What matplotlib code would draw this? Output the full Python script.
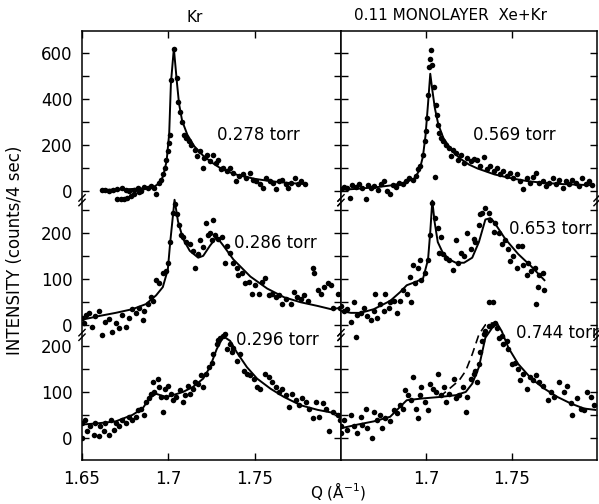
import numpy as np
import matplotlib.pyplot as plt
from matplotlib.transforms import blended_transform_factory

plt.rcParams['font.family'] = ['DejaVu Sans']

# ---- Kr, 0.278 torr (top left) ----
kr278_q = [1.6617, 1.6636, 1.6656, 1.6679, 1.6705, 1.6730, 1.6753, 1.6773, 1.6802, 1.6822,
           1.6841, 1.6861, 1.6880, 1.6900, 1.6919, 1.6705, 1.6724, 1.6744, 1.6763, 1.6783,
           1.6802, 1.6831, 1.6929, 1.6944, 1.6958, 1.6968, 1.6978, 1.6987, 1.6997, 1.7003,
           1.7011, 1.7017, 1.7032, 1.7052, 1.7058, 1.7065, 1.7077, 1.7091, 1.7104, 1.7120,
           1.7134, 1.7153, 1.7167, 1.7182, 1.7198, 1.7206, 1.7225, 1.7241, 1.7260, 1.7276,
           1.7289, 1.7303, 1.7319, 1.7338, 1.7358, 1.7373, 1.7393, 1.7412, 1.7432, 1.7451,
           1.7471, 1.7490, 1.7510, 1.7529, 1.7549, 1.7568, 1.7588, 1.7607, 1.7621, 1.7640,
           1.7660, 1.7679, 1.7693, 1.7712, 1.7732, 1.7751, 1.7771, 1.7790]
kr278_c = [3, 6, 0, 4, 10, 14, 6, 0, 3, 12,
           0, 17, 12, 22, 14, -33, -36, -33, -29, -22,
           -12, -3, -14, 36, 50, 72, 101, 137, 173, 209,
           245, 482, 619, 490, 389, 343, 300, 245, 230, 219,
           202, 180, 151, 173, 101, 144, 158, 130, 158, 122,
           137, 94, 101, 86, 101, 79, 43, 65, 72, 58,
           79, 50, 43, 29, 12, 58, 43, 36, 7, 43,
           50, 29, 14, 36, 58, 32, 43, 29]
kr278_fit_q = [1.6617, 1.675, 1.686, 1.692, 1.695, 1.697, 1.699, 1.7005, 1.7015, 1.7032,
               1.705, 1.7062, 1.708, 1.711, 1.715, 1.720, 1.725, 1.730, 1.735, 1.740,
               1.750, 1.760, 1.770, 1.779]
kr278_fit_c = [5, 7, 12, 20, 35, 65, 130, 250, 470, 620,
               470, 380, 305, 245, 195, 155, 125, 100, 83, 70,
               53, 42, 35, 30]

# ---- Kr, 0.286 torr (middle left) ----
kr286_q = [1.6500, 1.6510, 1.6523, 1.6539, 1.6558, 1.6578, 1.6597, 1.6617, 1.6636, 1.6656,
           1.6675, 1.6695, 1.6714, 1.6734, 1.6753, 1.6773, 1.6792, 1.6812, 1.6831, 1.6851,
           1.6861, 1.6880, 1.6900, 1.6909, 1.6929, 1.6948, 1.6968, 1.6987, 1.6997, 1.7011,
           1.7026, 1.7036, 1.7052, 1.7061, 1.7075, 1.7085, 1.7104, 1.7124, 1.7143, 1.7153,
           1.7173, 1.7182, 1.7202, 1.7221, 1.7231, 1.7241, 1.7250, 1.7260, 1.7270, 1.7289,
           1.7309, 1.7328, 1.7338, 1.7358, 1.7377, 1.7397, 1.7406, 1.7426, 1.7445, 1.7465,
           1.7484, 1.7504, 1.7523, 1.7543, 1.7562, 1.7582, 1.7601, 1.7621, 1.7640, 1.7660,
           1.7679, 1.7709, 1.7728, 1.7748, 1.7767, 1.7787, 1.7806, 1.7835, 1.7841, 1.7865,
           1.7884, 1.7904, 1.7923, 1.7942, 1.7952, 1.7981, 1.7995]
kr286_c = [15, 4, 22, 26, -4, 19, 30, -22, 7, 13,
           -15, 4, -7, 22, -4, 15, 34, 26, 37, 11,
           30, 45, 60, 52, 97, 90, 112, 116, 135, 180,
           244, 262, 240, 217, 195, 191, 180, 176, 161, 124,
           154, 184, 169, 221, 195, 199, 184, 229, 195, 187,
           191, 135, 172, 157, 135, 124, 109, 112, 90, 94,
           67, 86, 67, 94, 101, 64, 67, 60, 64, 45,
           56, 45, 71, 60, 56, 64, 52, 124, 112, 75,
           67, 82, 90, 86, 37, 67, 37]
kr286_fit_q = [1.650, 1.6597, 1.6695, 1.6792, 1.687, 1.6929, 1.6968, 1.6997, 1.7011, 1.7036,
               1.7056, 1.7085, 1.7124, 1.7173, 1.7202, 1.7241, 1.728, 1.7319, 1.7377, 1.7475,
               1.7572, 1.767, 1.7767, 1.7865, 1.7942, 1.800]
kr286_fit_c = [11, 19, 26, 34, 45, 64, 82, 120, 180, 272,
               225, 187, 161, 146, 150, 172, 191, 172, 142, 105,
               79, 60, 49, 41, 34, 37]

# ---- Kr, 0.296 torr (bottom left) ----
kr296_q = [1.6500, 1.6500, 1.6519, 1.6529, 1.6549, 1.6568, 1.6578, 1.6597, 1.6607, 1.6627,
           1.6636, 1.6656, 1.6666, 1.6685, 1.6695, 1.6714, 1.6734, 1.6753, 1.6773, 1.6792,
           1.6812, 1.6822, 1.6841, 1.6861, 1.6870, 1.6890, 1.6900, 1.6909, 1.6919, 1.6939,
           1.6948, 1.6958, 1.6968, 1.6978, 1.6987, 1.6997, 1.7017, 1.7026, 1.7046, 1.7065,
           1.7085, 1.7095, 1.7114, 1.7124, 1.7143, 1.7153, 1.7173, 1.7192, 1.7202, 1.7221,
           1.7237, 1.7250, 1.7260, 1.7280, 1.7289, 1.7299, 1.7319, 1.7328, 1.7338, 1.7358,
           1.7367, 1.7377, 1.7397, 1.7416, 1.7436, 1.7455, 1.7475, 1.7494, 1.7514, 1.7533,
           1.7562, 1.7582, 1.7601, 1.7621, 1.7640, 1.7660, 1.7679, 1.7699, 1.7718, 1.7738,
           1.7757, 1.7777, 1.7796, 1.7816, 1.7835, 1.7855, 1.7874, 1.7894, 1.7913, 1.7933,
           1.7952, 1.7981, 1.7995]
kr296_c = [32, 0, 39, 14, 25, 7, 32, 4, 25, 14,
           32, 7, 39, 18, 32, 25, 39, 32, 46, 39,
           46, 61, 64, 50, 79, 86, 96, 121, 100, 129,
           111, 89, 57, 107, 89, 114, 96, 82, 89, 104,
           79, 93, 114, 96, 107, 121, 118, 136, 111, 139,
           154, 164, 182, 204, 214, 218, 221, 225, 193, 204,
           186, 196, 168, 182, 146, 139, 136, 129, 111, 107,
           139, 132, 121, 111, 100, 107, 93, 68, 96, 82,
           71, 86, 79, 64, 43, 79, 46, 75, 64, 14,
           57, 50, 39]
kr296_fit_q = [1.650, 1.6597, 1.6695, 1.6792, 1.6851, 1.689, 1.6929, 1.6987, 1.7026, 1.7085,
               1.7143, 1.7202, 1.7241, 1.728, 1.7319, 1.7358, 1.7397, 1.7455, 1.7514, 1.7592,
               1.767, 1.7767, 1.7865, 1.7962, 1.800]
kr296_fit_c = [29, 32, 36, 50, 64, 86, 96, 89, 93, 100,
               111, 129, 154, 193, 221, 211, 186, 154, 129, 107,
               89, 71, 61, 54, 50]

# ---- Xe+Kr, 0.569 torr (top right) ----
xk569_q = [1.6500, 1.6515, 1.6535, 1.6554, 1.6567, 1.6587, 1.6606, 1.6625, 1.6644, 1.6658,
           1.6677, 1.6696, 1.6715, 1.6735, 1.6750, 1.6769, 1.6788, 1.6804, 1.6823, 1.6842,
           1.6862, 1.6881, 1.6900, 1.6919, 1.6938, 1.6952, 1.6965, 1.6981, 1.6990, 1.6996,
           1.7004, 1.7010, 1.7015, 1.7023, 1.7029, 1.7035, 1.7042, 1.7048, 1.7054, 1.7062,
           1.7069, 1.7077, 1.7088, 1.7100, 1.7115, 1.7131, 1.7144, 1.7158, 1.7173, 1.7188,
           1.7204, 1.7221, 1.7240, 1.7260, 1.7279, 1.7298, 1.7317, 1.7337, 1.7356, 1.7375,
           1.7394, 1.7413, 1.7433, 1.7452, 1.7471, 1.7490, 1.7510, 1.7529, 1.7548, 1.7567,
           1.7587, 1.7606, 1.7625, 1.7644, 1.7663, 1.7683, 1.7702, 1.7721, 1.7740, 1.7760,
           1.7779, 1.7798, 1.7817, 1.7837, 1.7856, 1.7875, 1.7894, 1.7913, 1.7933, 1.7952,
           1.7971]
xk569_c = [7, 17, 12, -29, 26, 17, 32, 14, -36, 26,
           12, 22, 3, 29, 43, 0, -14, 26, 17, 36,
           29, 43, 55, 50, 65, 94, 108, 158, 216, 259,
           317, 418, 540, 576, 612, 547, 454, 60, 374, 331,
           288, 252, 230, 216, 202, 187, 151, 180, 166, 137,
           158, 122, 144, 130, 141, 137, 108, 147, 94, 108,
           86, 98, 75, 89, 65, 79, 58, 72, 43, 7,
           55, 36, 60, 79, 36, 43, 22, 36, 58, 32,
           50, 14, 43, 29, 46, 36, 22, 55, 32, 43,
           26]
xk569_fit_q = [1.650, 1.660, 1.670, 1.680, 1.688, 1.693, 1.696, 1.698, 1.6995, 1.701,
               1.7023, 1.7035, 1.705, 1.707, 1.710, 1.715, 1.720, 1.725, 1.730, 1.740,
               1.750, 1.760, 1.770, 1.780, 1.798]
xk569_fit_c = [5, 10, 16, 25, 38, 55, 90, 150, 240, 380,
               510, 440, 360, 290, 230, 175, 140, 115, 98, 72,
               55, 42, 35, 30, 25]

# ---- Xe+Kr, 0.653 torr (middle right) ----
xk653_q = [1.6500, 1.6519, 1.6538, 1.6558, 1.6577, 1.6587, 1.6596, 1.6615, 1.6635, 1.6654,
           1.6673, 1.6692, 1.6702, 1.6712, 1.6731, 1.6750, 1.6760, 1.6779, 1.6788, 1.6808,
           1.6827, 1.6846, 1.6865, 1.6885, 1.6904, 1.6913, 1.6923, 1.6933, 1.6952, 1.6962,
           1.6971, 1.6990, 1.7010, 1.7023, 1.7035, 1.7048, 1.7067, 1.7077, 1.7087, 1.7096,
           1.7115, 1.7135, 1.7154, 1.7173, 1.7183, 1.7202, 1.7221, 1.7240, 1.7260, 1.7279,
           1.7288, 1.7308, 1.7317, 1.7327, 1.7346, 1.7365, 1.7375, 1.7365, 1.7388, 1.7394,
           1.7404, 1.7423, 1.7442, 1.7462, 1.7481, 1.7490, 1.7510, 1.7529, 1.7538, 1.7558,
           1.7567, 1.7587, 1.7596, 1.7615, 1.7635, 1.7644, 1.7654, 1.7663, 1.7683, 1.7692]
xk653_c = [41, 30, 34, 7, 49, -26, 22, 26, 37, 19,
           11, 30, 67, 15, 45, 30, 67, 37, 49, 52,
           26, 52, 75, 67, 105, 49, 131, 90, 124, 142,
           97, 112, 142, 195, 266, 232, 210, 157, 191, 154,
           146, 142, 120, 184, 135, 157, 150, 199, 165, 187,
           180, 217, 240, 244, 255, 244, 229, 49, 49, 202,
           221, 199, 176, 184, 165, 139, 150, 124, 172, 172,
           131, 109, 135, 116, 124, 45, 82, 109, 112, 75]
xk653_fit_q = [1.650, 1.6558, 1.6615, 1.6692, 1.6788, 1.6846, 1.6885, 1.6942, 1.6981, 1.701,
               1.7023, 1.7035, 1.7048, 1.7067, 1.7096, 1.7135, 1.7173, 1.7221, 1.7269, 1.7308,
               1.7346, 1.7375, 1.7394, 1.7462, 1.7538, 1.7615, 1.7692]
xk653_fit_c = [30, 26, 26, 34, 52, 71, 86, 94, 101, 142,
               202, 270, 225, 180, 157, 142, 135, 135, 146, 180,
               229, 232, 225, 187, 154, 127, 97]

# ---- Xe+Kr, 0.744 torr (bottom right) ----
xk744_q = [1.6500, 1.6500, 1.6519, 1.6538, 1.6558, 1.6577, 1.6596, 1.6615, 1.6625, 1.6644,
           1.6654, 1.6683, 1.6692, 1.6712, 1.6731, 1.6740, 1.6760, 1.6788, 1.6808, 1.6827,
           1.6846, 1.6865, 1.6875, 1.6894, 1.6913, 1.6923, 1.6942, 1.6952, 1.6962, 1.6971,
           1.6990, 1.7010, 1.7019, 1.7038, 1.7058, 1.7067, 1.7087, 1.7106, 1.7115, 1.7135,
           1.7163, 1.7173, 1.7192, 1.7212, 1.7231, 1.7240, 1.7260, 1.7279, 1.7288, 1.7298,
           1.7308, 1.7317, 1.7327, 1.7337, 1.7346, 1.7365, 1.7385, 1.7404, 1.7413, 1.7423,
           1.7442, 1.7452, 1.7471, 1.7481, 1.7500, 1.7519, 1.7538, 1.7548, 1.7567, 1.7587,
           1.7606, 1.7625, 1.7644, 1.7663, 1.7683, 1.7712, 1.7731, 1.7750, 1.7779, 1.7808,
           1.7827, 1.7846, 1.7856, 1.7885, 1.7904, 1.7923, 1.7942, 1.7962, 1.7981]
xk744_c = [25, 11, 39, 18, 50, 25, 11, 46, 29, 64,
           21, 0, 57, 39, 50, 21, 43, 36, 61, 54,
           71, 64, 104, 93, 82, 132, 64, 43, 93, 111,
           79, 61, 118, 107, 100, 139, 93, 111, 79, 96,
           129, 86, 93, 111, 57, 89, 129, 139, 146, 121,
           161, 186, 211, 225, 232, 243, 246, 250, 239, 218,
           221, 204, 211, 193, 161, 164, 150, 125, 139, 107,
           132, 125, 136, 121, 114, 82, 100, 89, 121, 100,
           114, 75, 50, 86, 64, 61, 100, 89, 71]
xk744_fit_q = [1.650, 1.6596, 1.6692, 1.6788, 1.6885, 1.6981, 1.7077, 1.7173, 1.7231, 1.7269,
               1.7308, 1.7346, 1.7385, 1.7413, 1.7442, 1.7481, 1.7538, 1.7615, 1.7692, 1.7769,
               1.7846, 1.7923, 1.799]
xk744_fit_c = [21, 29, 36, 46, 82, 86, 89, 93, 100, 118,
               154, 218, 239, 250, 232, 196, 161, 129, 107, 89,
               75, 64, 61]
xk744_dash_q = [1.7077, 1.7135, 1.7192, 1.7231, 1.7269, 1.7308, 1.7346, 1.7385, 1.7404]
xk744_dash_c = [89, 107, 125, 146, 182, 225, 246, 250, 250]

labels_left = ['0.278 torr', '0.286 torr', '0.296 torr']
labels_right = ['0.569 torr', '0.653 torr', '0.744 torr']

# stacked layout: (offset, scale) for top, middle, bottom
OFF_TOP, SC_TOP = 537, 0.5
OFF_MID, SC_MID = 246, 1.0
OFF_BOT, SC_BOT = 0, 1.0


def draw(ax, q, c, fq, fc, off, sc):
    ax.plot(q, np.array(c) * sc + off, 'o', color='black', ms=4.0, mew=0)
    ax.plot(fq, np.array(fc) * sc + off, '-', color='black', lw=1.4)


fig = plt.figure(figsize=(5.99, 5.04), dpi=100)
axL = fig.add_axes([82 / 599, 44 / 504, 259 / 599, 429 / 504])
axR = fig.add_axes([341 / 599, 44 / 504, 256 / 599, 429 / 504])

draw(axL, kr278_q, kr278_c, kr278_fit_q, kr278_fit_c, OFF_TOP, SC_TOP)
draw(axL, kr286_q, kr286_c, kr286_fit_q, kr286_fit_c, OFF_MID, SC_MID)
draw(axL, kr296_q, kr296_c, kr296_fit_q, kr296_fit_c, OFF_BOT, SC_BOT)

draw(axR, xk569_q, xk569_c, xk569_fit_q, xk569_fit_c, OFF_TOP, SC_TOP)
draw(axR, xk653_q, xk653_c, xk653_fit_q, xk653_fit_c, OFF_MID, SC_MID)
draw(axR, xk744_q, xk744_c, xk744_fit_q, xk744_fit_c, OFF_BOT, SC_BOT)
axR.plot(xk744_dash_q, np.array(xk744_dash_c) * SC_BOT + OFF_BOT, '--', color='black',
         lw=1.2, dashes=(5, 3))

major_pos = [OFF_BOT + SC_BOT * v for v in (0, 100, 200)] + \
            [OFF_MID + SC_MID * v for v in (0, 100, 200)] + \
            [OFF_TOP + SC_TOP * v for v in (0, 200, 400, 600)]
major_lab = ['0', '100', '200', '0', '100', '200', '0', '200', '400', '600']
minor_pos = [OFF_BOT + SC_BOT * v for v in (50, 150)] + \
            [OFF_MID + SC_MID * v for v in (50, 150, 250)] + \
            [OFF_TOP + SC_TOP * v for v in (100, 300, 500)]

for ax in (axL, axR):
    ax.set_xlim(1.65, 1.80)
    ax.set_ylim(-48, 885)
    ax.set_yticks(major_pos)
    ax.set_yticks(minor_pos, minor=True)
    ax.tick_params(which='both', direction='in', top=True, right=True, left=True,
                   length=5, width=1, labelsize=12, pad=7)
    for s in ax.spines.values():
        s.set_linewidth(1.1)

axL.set_yticklabels(major_lab)
axL.set_xticks([1.65, 1.7, 1.75], ['1.65', '1.7', '1.75'])
axR.set_yticklabels([])
axR.set_xticks([1.7, 1.75], ['1.7', '1.75'])

# axis break marks
for ax in (axL, axR):
    tr = blended_transform_factory(ax.transAxes, ax.transData)
    for yb in (517, 224):
        for xb in (0.0, 1.0):
            for dy in (-5, 5):
                ax.plot([xb - 0.012, xb + 0.012], [yb + dy - 7, yb + dy + 7], color='black',
                        lw=1.0, transform=tr, clip_on=False)

axL.text(0.521, 0.758, labels_left[0], transform=axL.transAxes, fontsize=12, va='center')
axL.text(0.587, 0.505, labels_left[1], transform=axL.transAxes, fontsize=12, va='center')
axL.text(0.595, 0.280, labels_left[2], transform=axL.transAxes, fontsize=12, va='center')
axR.text(0.516, 0.758, labels_right[0], transform=axR.transAxes, fontsize=12, va='center')
axR.text(0.656, 0.538, labels_right[1], transform=axR.transAxes, fontsize=12, va='center')
axR.text(0.684, 0.296, labels_right[2], transform=axR.transAxes, fontsize=12, va='center',
         clip_on=False)

fig.text(195 / 599, 1 - 17 / 504, 'Kr', ha='center', va='center', fontsize=11)
fig.text(450 / 599, 1 - 16 / 504, '0.11 MONOLAYER  Xe+Kr', ha='center', va='center', fontsize=11)
fig.text(15 / 599, 1 - 250 / 504, 'INTENSITY (counts/4 sec)', rotation=90,
         ha='center', va='center', fontsize=12)
fig.text(338 / 599, 2 / 504, 'Q (Å$^{-1}$)', ha='center', va='bottom', fontsize=11)

fig.savefig('out.png', dpi=100)
